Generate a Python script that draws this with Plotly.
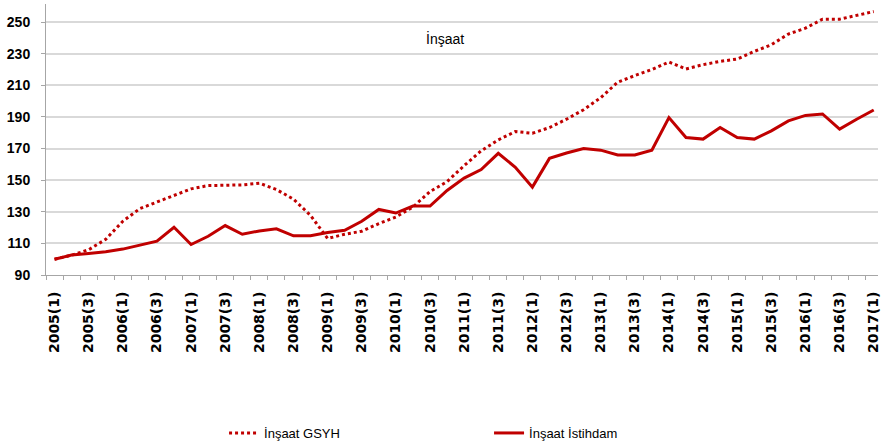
import plotly.graph_objects as go

years = list(range(2005, 2018))
categories = [f"{y}({q})" for y in years for q in (1, 2, 3, 4)][:49]
tick_labels = [c for i, c in enumerate(categories) if i % 2 == 0]

gsyh = [100, 102.5, 106, 112.6, 124, 132, 136.2, 140.3, 144.5, 146.6, 147, 147, 148.1, 144.1, 138,
        127.7, 113.1, 115.8, 117.7, 122.5, 126.7, 133, 142.8, 149.1, 159.2, 168.6, 175.5, 180.8,
        179.7, 183.3, 188.6, 194.6, 202.2, 212, 216.2, 220, 224.8, 220.4, 223.1, 225.2, 226.7,
        231.5, 235.7, 242.5, 246.2, 251.9, 251.9, 254.4, 256.7]
istihdam = [100, 102.6, 103.6, 104.7, 106.4, 108.9, 111.4, 120.2, 109.3, 114.5, 121.3, 115.8,
            117.9, 119.2, 114.8, 114.8, 116.9, 118.3, 124, 131.5, 129.2, 133.6, 133.6, 143.5, 151.3,
            156.7, 167, 158.2, 145.6, 163.8, 167.2, 170.1, 169, 165.9, 165.9, 169, 189.6, 177, 176,
            183.3, 177, 176, 181.2, 187.5, 191, 191.9, 182.3, 188.6, 194.4]

y_ticks = [90, 110, 130, 150, 170, 190, 210, 230, 250]
red = "#C00000"
txt_font = "Liberation Sans, Arial, sans-serif"

fig = go.Figure()
fig.add_trace(go.Scatter(x=list(range(len(gsyh))), y=gsyh, mode="lines", name="İnşaat GSYH",
                         line=dict(color=red, width=3, dash="dot")))
fig.add_trace(go.Scatter(x=list(range(len(istihdam))), y=istihdam, mode="lines", name="İnşaat İstihdam",
                         line=dict(color=red, width=3)))

fig.update_layout(
    width=881, height=448,
    margin=dict(l=46, r=0, t=4, b=171, pad=0),
    paper_bgcolor="white", plot_bgcolor="white",
    showlegend=True,
    legend=dict(orientation="h", x=0.214, y=-0.585, xanchor="left", yanchor="middle",
                entrywidth=220, entrywidthmode="pixels",
                font=dict(family=txt_font, size=13, color="#000")),
    annotations=[dict(text="İnşaat", xref="paper", yref="paper", x=0.479, y=0.872,
                      showarrow=False, xanchor="center", yanchor="middle",
                      font=dict(family=txt_font, size=14, color="#000"))],
)
fig.update_xaxes(
    range=[-0.5, 48.25],
    tickmode="array", tickvals=[i for i in range(0, 49, 2)], ticktext=tick_labels,
    tickangle=-90, tickfont=dict(family="DejaVu Sans", size=14, color="#000", weight="bold"),
    showgrid=False, showline=True, linecolor="#A6A6A6", linewidth=1,
    ticks="", zeroline=False, ticklabelstandoff=10, ticklabeloverflow="allow",
    minor=dict(tickmode="array", tickvals=[i + 0.5 for i in range(-1, 49)], ticks="outside",
               ticklen=4, tickcolor="#A6A6A6", showgrid=False),
)
fig.update_yaxes(
    range=[90, 261.5], tickvals=y_ticks,
    tickfont=dict(family=txt_font, size=14, color="#000", weight="bold"),
    showgrid=True, gridcolor="#D9D9D9", gridwidth=1.5,
    showline=True, linecolor="#A6A6A6", linewidth=1,
    ticks="outside", ticklen=4, tickcolor="#A6A6A6", zeroline=False,
    ticklabelstandoff=8,
)
fig.write_html("out.html", config={"displayModeBar": False},
               post_script="document.body.style.margin='0';document.body.style.overflow='hidden';")
